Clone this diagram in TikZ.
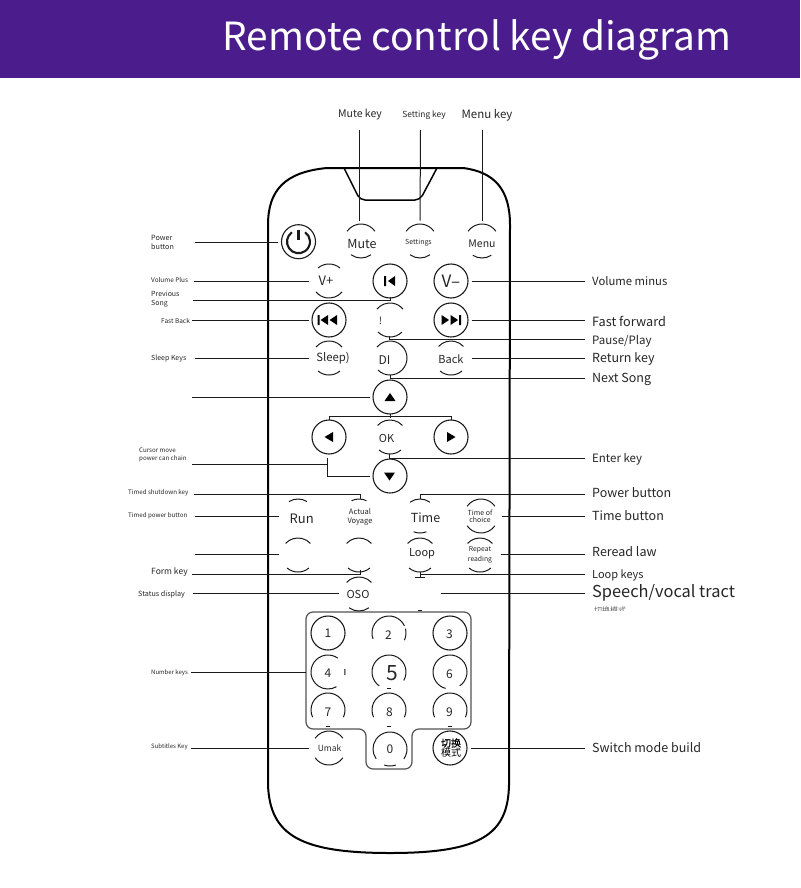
\documentclass[tikz,border=0pt]{standalone}
\usepackage{fontspec}
\setmainfont{Noto Sans CJK SC}
\definecolor{hdr}{HTML}{4B1C8C}
\definecolor{ink}{HTML}{1A1A1A}
\definecolor{txt}{HTML}{262626}
\tikzset{
  key/.style={circle,minimum size=34pt,inner sep=0pt,outer sep=3.5pt},
  ring/.style={key,draw=ink,line width=1.1pt},
  kt/.style={inner sep=0pt,text=txt,align=center,font=\fontsize{#1}{#1}\selectfont},
  wire/.style={draw=ink,line width=1pt},
  arcs/.style={draw=ink,line width=1pt},
  body/.style={draw=black,line width=2pt,line join=round},
  lab/.style={anchor=west,text=txt,font=\fontsize{#1}{#1}\selectfont,inner sep=0pt,align=left},
  lft/.style={anchor=west,text=txt,font=\fontsize{#1}{#1}\selectfont,inner sep=0pt,align=left}
}
% page angles: a top arc and a bottom arc, half-angles given
\newcommand{\arcpair}[3]{%
  \draw[arcs] ([shift={(270-#2:17)}]#1.center) arc[start angle=270-#2,delta angle=2*#2,radius=17];
  \draw[arcs] ([shift={(90-#3:17)}]#1.center) arc[start angle=90-#3,delta angle=2*#3,radius=17];}
% arc between two page angles (counter-clockwise on the page from #2 to #3)
\newcommand{\sidearc}[3]{%
  \draw[arcs] ([shift={(-#2:17)}]#1.center) arc[start angle=-#2,end angle=-#3,radius=17];}
\begin{document}
\begin{tikzpicture}[x=1pt,y=-1pt]
\useasboundingbox (0,0) rectangle (800,888);
\fill[hdr] (0,0) rectangle (800,78);
\node[text=white,font=\fontsize{38.8}{38.8}\selectfont,inner sep=0pt] (title) at (477,40) {Remote control key diagram};

% body
\draw[body] (327,168) -- (463,168) .. controls (495,172) and (510,190) .. (510,225)
  -- (509,785) .. controls (508,835) and (480,853) .. (390,853)
  .. controls (300,853) and (270,835) .. (268,785) -- (268,225)
  .. controls (268,190) and (285,172) .. (327,168) -- cycle;
\draw[body,line width=1.5pt,rounded corners=5pt] (344,168) -- (360,200) -- (420,200) -- (437,168);

% keypad outline
\draw[draw=ink!75,line width=1.2pt,rounded corners=7pt]
  (306,612) -- (471,612) -- (471,729) -- (412,729) -- (412,769) -- (366,769) -- (366,729) -- (306,729) -- cycle;

% keys
\node[ring] (pw) at (298.5,241.7) {};
\draw[ink,line width=2.2pt] (298.5,230) -- (298.5,240);
\draw[ink,line width=2.1pt] ([shift={(-125:11.5)}]pw.center) arc[start angle=-125,delta angle=-290,radius=11.5];
\node[key] (mute) at (361,241) {};
\node[key] (settings) at (420,241) {};
\node[key] (menu) at (482,241) {};
\node[key] (vp) at (329,281) {};
\node[ring] (prev) at (390,281) {};
\node[ring] (vm) at (451,281) {};
\node[ring] (fb) at (329,320) {};
\node[key] (pp) at (390,320) {};
\node[ring] (ff) at (451,320) {};
\node[key] (sleep) at (329,358) {};
\node[key] (di) at (390,358) {};
\node[key] (back) at (451,358) {};
\node[ring] (up) at (390,397) {};
\node[ring] (left) at (329,437) {};
\node[key] (ok) at (390,437) {};
\node[ring] (right) at (451,437) {};
\node[ring] (down) at (390,476) {};
\node[key] (run) at (298,516) {};
\node[key] (act) at (359,516) {};
\node[key] (time) at (420,516) {};
\node[key] (toc) at (481,516) {};
\node[key] (b1) at (298,555) {};
\node[key] (b2) at (359,555) {};
\node[key] (loop) at (420,555) {};
\node[key] (rep) at (480,555) {};
\node[key] (oso) at (359,594) {};
\node[key] (spk) at (420,593.3) {};
\node[ring] (n1) at (328,633) {};
\node[key] (n2) at (389,633) {};
\node[ring] (n3) at (450,633) {};
\node[key] (n4) at (328,672) {};
\node[key] (n5) at (389,672) {};
\node[key] (n6) at (450,672) {};
\node[key] (n7) at (328,710) {};
\node[key] (n8) at (389,710) {};
\node[key] (n9) at (450,710) {};
\node[key] (n0) at (390,749) {};
\node[key] (umak) at (329,748) {};
\node[ring] (sw) at (450,748) {};

% key texts
\node[kt=12.5] (t1) at (362,244) {Mute};
\node[kt=7] (t2) at (418.5,243) {Settings};
\node[kt=10.5] (t3) at (482,244) {Menu};
\node[kt=13] (t4) at (326,281) {V+};
\node[kt=17] (t5) at (451,281) {V–};
\node[kt=10] (t6) at (380.5,320.5) {!};
\node[kt=11.3] (t7) at (333,358) {Sleep)};
\node[kt=12] (t8) at (384.5,360) {DI};
\node[kt=11] (t9) at (451,359) {Back};
\node[kt=11] (t10) at (386.5,438) {OK};
\node[kt=13] (t11) at (301.7,518.5) {Run};
\node[kt=7.5] (t12) at (360,516.5) {Actual\\[1.5pt]Voyage};
\node[kt=12.5] (t13) at (425.5,518) {Time};
\node[kt=7] (t14) at (480,516) {Time of\\[.3pt]choice};
\node[kt=11] (t15) at (422,554) {Loop};
\node[kt=6.8] (t16) at (480,554.5) {Repeat\\[2pt]reading};
\node[kt=11] (t17) at (358,594) {OSO};
\node[kt=12] (t18) at (328,633) {1};
\node[kt=12] (t19) at (388.5,635) {2};
\node[kt=12] (t20) at (449.5,634) {3};
\node[kt=12] (t21) at (328,673) {4};
\node[kt=21] (t22) at (392,673) {5};
\node[kt=12] (t23) at (449.5,674) {6};
\node[kt=12] (t24) at (328,712) {7};
\node[kt=12] (t25) at (389.5,712) {8};
\node[kt=12] (t26) at (449.5,712) {9};
\node[kt=12] (t27) at (390,749) {0};
\node[kt=8.5] (t28) at (329.5,748) {Umak};
\node[kt=10,text=black] (t29) at (451,748) {\addfontfeature{FakeBold=1}\fontsize{10}{10.5}\selectfont 切换\\模式};

% arcs
\arcpair{mute}{55}{36}
\arcpair{settings}{55}{36}
\arcpair{menu}{55}{33}
\arcpair{vp}{40}{50}
\arcpair{pp}{50}{45}
\arcpair{sleep}{50}{40}
\arcpair{di}{50}{45}
\sidearc{di}{-45}{45}
\arcpair{back}{47}{40}
\arcpair{ok}{47}{40}
\arcpair{time}{36}{22}
\arcpair{toc}{55}{55}
\arcpair{b1}{47}{40}
\arcpair{b2}{47}{40}
\arcpair{loop}{47}{40}
\arcpair{rep}{47}{40}
\arcpair{oso}{47}{36}
\arcpair{umak}{55}{55}
% Run and Actual Voyage keep only a top arc
\sidearc{run}{58}{122}
\sidearc{act}{64}{116}
\sidearc{spk}{262}{278}
% digit rings, broken as printed
\sidearc{n2}{25}{200}
\sidearc{n2}{-25}{15}
\sidearc{n4}{55}{300}
\sidearc{n4}{-10}{10}
\sidearc{n5}{-30}{235}
\sidearc{n5}{262}{278}
\sidearc{n6}{-55}{255}
\sidearc{n7}{-25}{205}
\sidearc{n7}{262}{278}
\sidearc{n8}{-25}{205}
\sidearc{n8}{262}{278}
\sidearc{n9}{-25}{205}
\sidearc{n9}{262}{278}
\sidearc{n0}{-35}{215}
\sidearc{n0}{250}{290}

% glyphs in ring keys
\fill[black] (384,276) rectangle (386,286) (388,281) -- (395,276) -- (395,286) -- cycle;
\fill[black] (317.5,315) rectangle (319.5,325) (320.5,320) -- (328,315) -- (328,325) -- cycle (329.5,320) -- (337,315) -- (337,325) -- cycle;
\fill[black] (441.5,315) -- (449,320) -- (441.5,325) -- cycle (450.5,315) -- (458,320) -- (450.5,325) -- cycle (459,315) rectangle (461,325);
\fill[black] (384.5,401) -- (390,393) -- (395.5,401) -- cycle;
\fill[black] (333,432) -- (333,442) -- (324.5,437) -- cycle;
\fill[black] (447,432) -- (455.5,437) -- (447,442) -- cycle;
\fill[black] (384,472.5) -- (395,472.5) -- (389.5,480.5) -- cycle;

% labels left
\node[lft=7.2] (lpw) at (151,242.5) {Power\\[1pt]button};
\node[lft=6.4] (lvp) at (151,279.5) {Volume Plus};
\node[lft=7] (lprev) at (151,299) {Previous\\[1.5pt]Song};
\node[lft=6.5] (lfb) at (161,320.5) {Fast Back};
\node[lft=7] (lsl) at (151,358.5) {Sleep Keys};
\node[lft=6.2] (lcm) at (139,455) {Cursor move\\[1.5pt]power can chain};
\node[lft=6.2] (ltsd) at (128,492.5) {Timed shutdown key};
\node[lft=6.2] (ltpb) at (128,515.5) {Timed power button};
\node[lft=8.5] (lform) at (151,572.5) {Form key};
\node[lft=7.2] (lstat) at (138,594) {Status display};
\node[lft=6] (lnum) at (151,673) {Number keys};
\node[lft=6] (lsub) at (151,747) {Subtitles Key};

% labels top
\node[font=\fontsize{10.5}{10.5}\selectfont,text=txt,inner sep=0pt] (lmute) at (360,114.5) {Mute key};
\node[font=\fontsize{8.4}{8.4}\selectfont,text=txt,inner sep=0pt] (lset) at (424,115.5) {Setting key};
\node[font=\fontsize{11.5}{11.5}\selectfont,text=txt,inner sep=0pt] (lmenu) at (487,115.5) {Menu key};

% labels right
\node[lab=11.3] (rvm) at (592,281) {Volume minus};
\node[lab=12.7] (rff) at (592,321) {Fast forward};
\node[lab=11.5] (rpp) at (592,341) {Pause/Play};
\node[lab=12.5] (rback) at (592,359) {Return key};
\node[lab=12.5] (rnext) at (592,379) {Next Song};
\node[lab=11.5] (rent) at (592,459.5) {Enter key};
\node[lab=12.5] (rpb) at (592,493) {Power button};
\node[lab=12.5] (rtb) at (592,516) {Time button};
\node[lab=12.5] (rrr) at (592,552) {Reread law};
\node[lab=11] (rlk) at (592,575) {Loop keys};
\node[lab=16.4] (rsp) at (592,593) {Speech/vocal tract};
\node[lab=12.5] (rsw) at (592,748) {Switch mode build};
\begin{scope}
\clip (585,604) rectangle (640,610);
\node[lab=8,opacity=.7] (rcut) at (594,610) {切换模式};
\end{scope}

% free ends
\coordinate (fmute) at (359,130);
\coordinate (fset) at (420.5,130);
\coordinate (fmenu) at (482,130);
\coordinate (fpw) at (195,242);
\coordinate (fvp) at (194,281);
\coordinate (fprev) at (193,300);
\coordinate (ffb) at (192,320);
\coordinate (fsl) at (195,358);
\coordinate (fup) at (192,397);
\coordinate (fcur) at (192,464);
\coordinate (curtop) at (327,458);
\coordinate (ftsd) at (194,494.3);
\coordinate (ftpb) at (195,516);
\coordinate (erun) at (279,516);
\coordinate (fb1) at (195,554);
\coordinate (eb1) at (279,554);
\coordinate (fform) at (192,574);
\coordinate (fstat) at (193,593.7);
\coordinate (fnum) at (191,672);
\coordinate (fsub) at (191,748);
\coordinate (col) at (584.5,0);
\coordinate (tpp) at (389.5,336);
\coordinate (ypp) at (0,339.8);
\coordinate (tnx) at (390,375);
\coordinate (ynx) at (0,378);
\coordinate (tent) at (389.5,454);
\coordinate (yent) at (0,458);
\coordinate (tpb) at (420,499);
\coordinate (ypb) at (0,494.3);
\coordinate (yrr) at (0,554);
\coordinate (tlk) at (420,572);
\coordinate (ylk) at (0,574);
\coordinate (tfm) at (360,570);
\coordinate (epad) at (306,672);
\coordinate (tact) at (360,499);
\coordinate (uscore) at (420,577);

% connectors
\draw[wire] (fmute) -- (fmute |- mute.north);
\draw[wire] (fset) -- (settings.north);
\draw[wire] (fmenu) -- (menu.north);
\draw[wire] (fpw) -- (pw.west |- fpw);
\draw[wire] (fvp) -- (vp.west |- fvp);
\draw[wire] (fprev) -| ([yshift=4.5pt]prev.south);
\draw[wire] (ffb) -- (fb.west);
\draw[wire] (fsl) -- (sleep.west);
\draw[wire] (fup) -- (up.west);
\draw[wire] (fcur) -- (fcur -| curtop);
\draw[wire] (curtop) |- (down.west);
\draw[wire] ([yshift=-3.5pt]left.north) -- (left.north) -- (right.north) -- ([yshift=-3.5pt]right.north);
\draw[wire] ([yshift=3.5pt]up.south) -- (up.south);
\draw[wire] (ftsd) -| (tact);
\draw[wire] (ftpb) -- (erun);
\draw[wire] (fb1) -- (eb1);
\draw[wire] (fform) -| (tfm);
\draw[wire] (fstat) -- (fstat -| oso.west);
\draw[wire] (fnum) -- (epad);
\draw[wire] (fsub) -- (umak.west);

\draw[wire] (vm.east) -- (vm.east -| col);
\draw[wire] (ff.east) -- (ff.east -| col);
\draw[wire] (tpp) |- (col |- ypp);
\draw[wire] (back.east) -- (back.east -| col);
\draw[wire] (tnx) |- (col |- ynx);
\draw[wire] (tent) |- (col |- yent);
\draw[wire] (tpb) |- (col |- ypb);
\draw[wire] (toc.east) -- (toc.east -| col);
\draw[wire] (rep.east |- yrr) -- (col |- yrr);
\draw[wire] (tlk) -- (uscore);
\draw[wire] ([xshift=-5pt]uscore) -- ([xshift=5pt]uscore);
\draw[wire] (tlk |- ylk) -- (col |- ylk);
\draw[wire] (spk.east) -- (spk.east -| col);
\draw[wire] (sw.east) -- (sw.east -| col);
\end{tikzpicture}
\end{document}
